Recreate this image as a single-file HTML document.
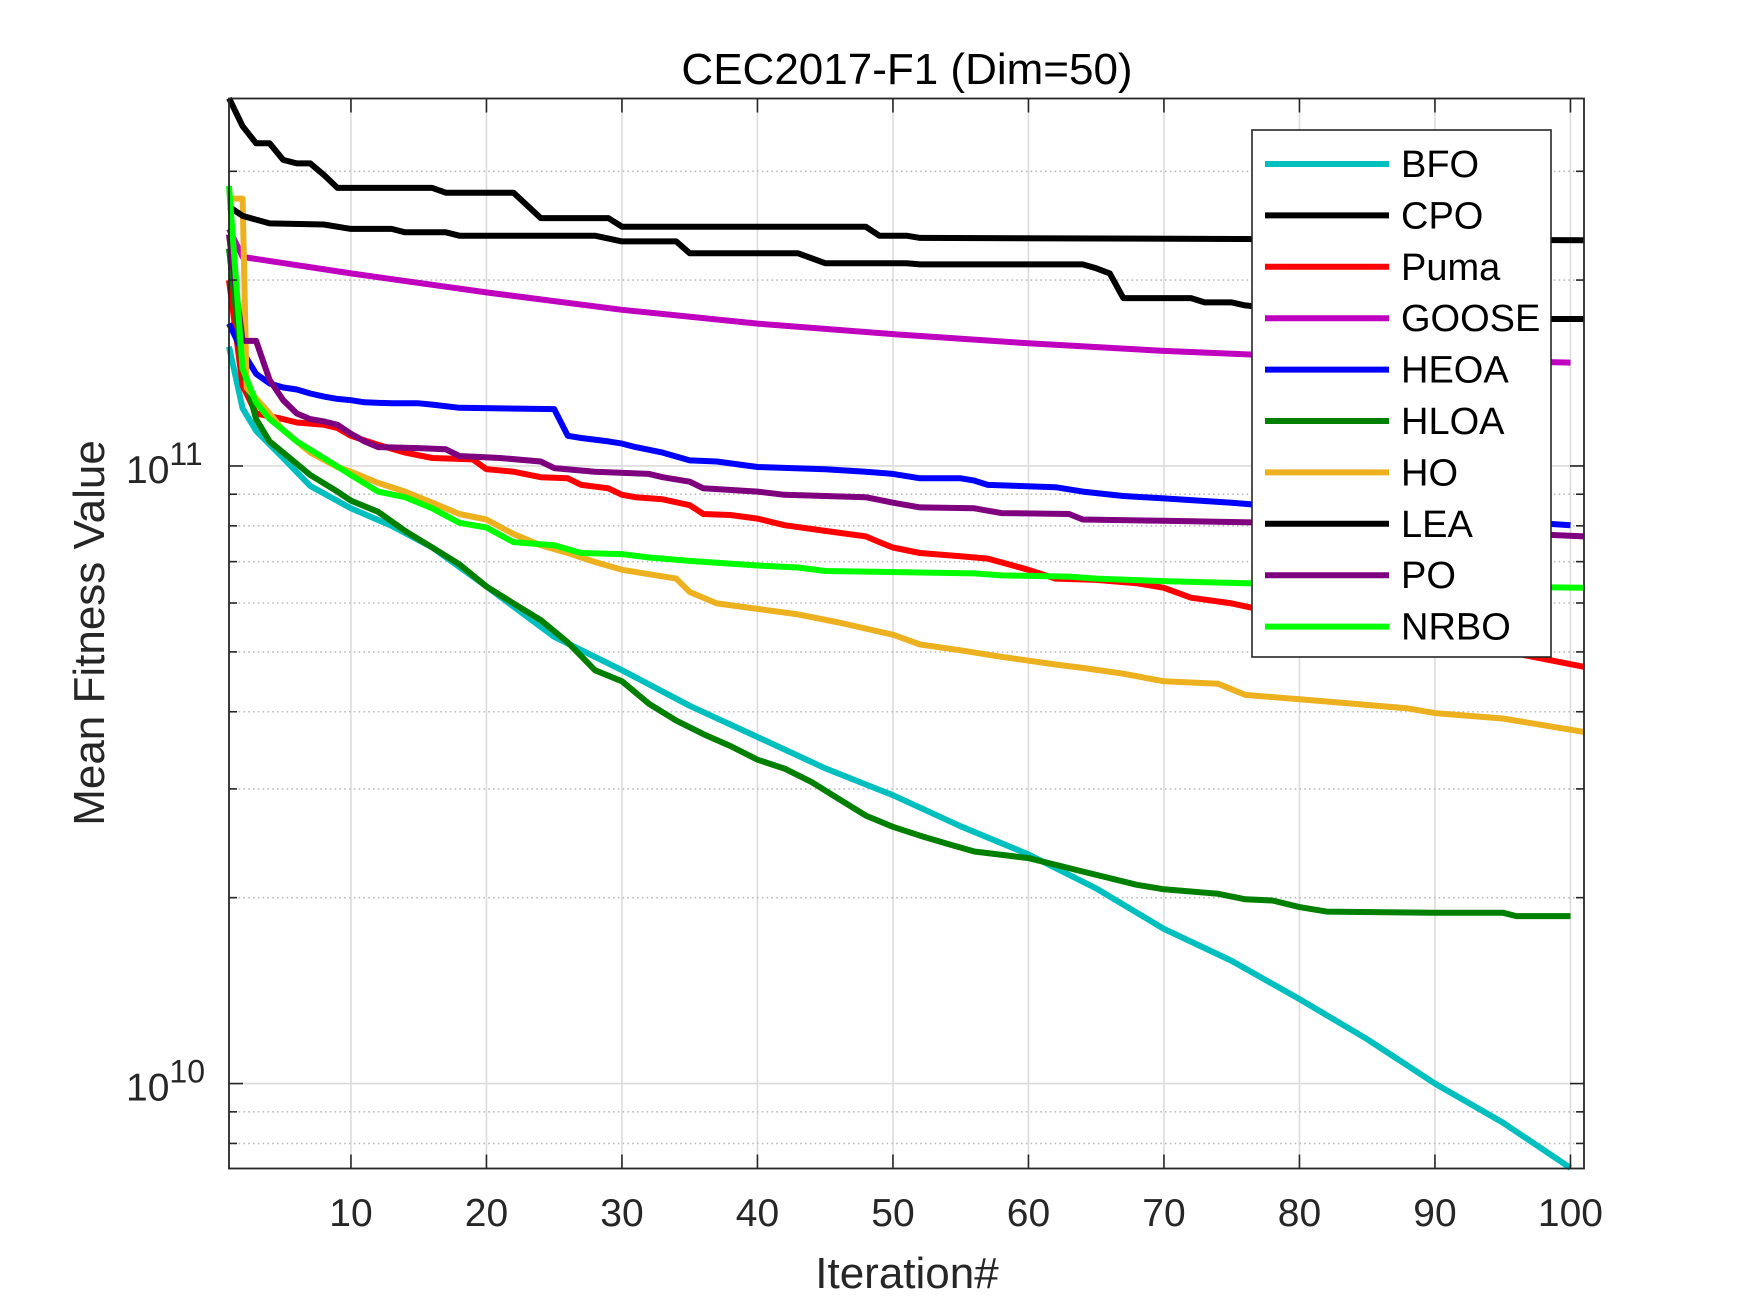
<!DOCTYPE html>
<html><head><meta charset="utf-8"><title>CEC2017-F1 (Dim=50)</title>
<style>
html,body{margin:0;padding:0;background:#fff;}
svg{display:block;font-family:"Liberation Sans",Arial,sans-serif;}
</style></head>
<body>
<svg id="chart" width="1750" height="1313" viewBox="0 0 1750 1313">
  <rect x="0" y="0" width="1750" height="1313" fill="#fff"/>
  <g id="grid"></g>
  <g id="series"></g>
  <g id="axes"></g>
  <g id="legend"></g>
</svg>
<script>
// ---- data ----
const seriesNames = ["BFO","CPO","Puma","GOOSE","HEOA","HLOA","HO","LEA","PO","NRBO"];
const seriesColors = ["#00BFBF","#000000","#FF0000","#BF00BF","#0000FF","#007F00","#EDB120","#000000","#7E007E","#00FF00"];
const xTicks = [10,20,30,40,50,60,70,80,90,100];
const yMajorTicks = [1e10,1e11];
const yTickExps = ["10","11"];

const bfoIter = [1,2,3,5,7,10,13,16,20,25,30,35,40,45,50,55,60,65,70,75,80,85,90,95,100];
const bfoVal  = [1.56e11,1.24e11,1.14e11,1.03e11,0.928e11,0.854e11,0.80e11,0.738e11,0.638e11,0.529e11,0.467e11,0.409e11,0.364e11,0.324e11,0.293e11,0.261e11,0.235e11,0.207e11,0.178e11,0.158e11,0.137e11,0.118e11,0.100e11,0.0865e11,0.073e11];

const cpoIter = [1,2,3,4,5,6,7,8,9,16,17,22,24,29,30,48,49,51,52,101];
const cpoVal  = [3.94e11,3.55e11,3.33e11,3.33e11,3.13e11,3.09e11,3.09e11,2.96e11,2.82e11,2.82e11,2.77e11,2.77e11,2.52e11,2.52e11,2.44e11,2.44e11,2.36e11,2.36e11,2.34e11,2.32e11];

const pumaIter = [1,2,3,5,6,8,9,10,12,14,16,19,20,22,24,26,27,29,30,31,33,35,36,38,40,42,45,48,49,50,52,55,57,60,62,65,68,70,72,75,78,80,88,96,101];
const pumaVal  = [2.0e11,1.35e11,1.216e11,1.191e11,1.176e11,1.166e11,1.152e11,1.119e11,1.082e11,1.051e11,1.03e11,1.025e11,0.988e11,0.979e11,0.959e11,0.955e11,0.932e11,0.92e11,0.898e11,0.89e11,0.883e11,0.864e11,0.836e11,0.833e11,0.822e11,0.802e11,0.785e11,0.769e11,0.753e11,0.738e11,0.723e11,0.714e11,0.708e11,0.679e11,0.657e11,0.654e11,0.646e11,0.635e11,0.612e11,0.599e11,0.58e11,0.563e11,0.529e11,0.497e11,0.473e11];

const gooseIter = [1,2,10,20,30,40,50,60,70,80,100];
const gooseVal  = [2.42e11,2.18e11,2.05e11,1.91e11,1.79e11,1.70e11,1.635e11,1.58e11,1.536e11,1.504e11,1.47e11];

const heoaIter = [1,2,3,4,5,6,7,8,9,10,11,13,15,16,18,25,26,27,29,30,31,33,35,37,40,45,48,50,52,55,56,57,62,64,67,70,75,80,90,100];
const heoaVal  = [1.70e11,1.53e11,1.41e11,1.36e11,1.34e11,1.33e11,1.31e11,1.295e11,1.284e11,1.278e11,1.268e11,1.263e11,1.263e11,1.257e11,1.242e11,1.236e11,1.119e11,1.11e11,1.096e11,1.087e11,1.073e11,1.051e11,1.021e11,1.017e11,0.996e11,0.988e11,0.979e11,0.971e11,0.955e11,0.955e11,0.947e11,0.932e11,0.924e11,0.909e11,0.894e11,0.886e11,0.872e11,0.854e11,0.829e11,0.802e11];

const hloaIter = [1,2,3,4,5,7,9,10,12,14,16,18,20,22,24,26,28,30,32,34,36,38,40,42,44,46,48,50,52,54,56,60,64,68,70,74,76,78,80,82,90,95,96,100];
const hloaVal  = [2.25e11,1.436e11,1.191e11,1.096e11,1.051e11,0.967e11,0.909e11,0.879e11,0.843e11,0.785e11,0.738e11,0.693e11,0.638e11,0.599e11,0.563e11,0.518e11,0.467e11,0.448e11,0.412e11,0.387e11,0.368e11,0.352e11,0.3345e11,0.3236e11,0.3077e11,0.289e11,0.2716e11,0.2605e11,0.252e11,0.2446e11,0.2376e11,0.2318e11,0.2205e11,0.2098e11,0.2063e11,0.2029e11,0.1988e11,0.1979e11,0.1931e11,0.1899e11,0.1891e11,0.1891e11,0.1867e11,0.1867e11];

const hoIter = [1,2,2.3,4,5,7,9,10,12,14,16,18,20,22,24,26,28,30,32,34,35,37,40,43,46,50,52,55,58,62,64,67,70,74,76,80,84,88,90,95,101];
const hoVal  = [2.71e11,2.71e11,1.339e11,1.216e11,1.143e11,1.051e11,0.996e11,0.979e11,0.939e11,0.909e11,0.872e11,0.836e11,0.819e11,0.776e11,0.744e11,0.723e11,0.699e11,0.679e11,0.668e11,0.657e11,0.625e11,0.599e11,0.587e11,0.575e11,0.558e11,0.533e11,0.514e11,0.503e11,0.491e11,0.477e11,0.471e11,0.461e11,0.448e11,0.444e11,0.426e11,0.419e11,0.412e11,0.405e11,0.398e11,0.39e11,0.371e11];

const leaIter = [1,2,4,8,10,13,14,17,18,28,30,34,35,43,45,51,52,64,65,66,67,72,73,75,76,85,101];
const leaVal  = [2.63e11,2.54e11,2.47e11,2.46e11,2.42e11,2.42e11,2.39e11,2.39e11,2.36e11,2.36e11,2.31e11,2.31e11,2.21e11,2.21e11,2.13e11,2.13e11,2.12e11,2.12e11,2.09e11,2.05e11,1.87e11,1.87e11,1.84e11,1.84e11,1.82e11,1.73e11,1.73e11];

const poIter = [1,2,3,4,5,6,7,8,9,10,11,12,15,17,18,21,24,25,28,32,33,35,36,40,42,48,50,52,56,58,63,64,70,78,101];
const poVal  = [2.37e11,1.594e11,1.594e11,1.378e11,1.278e11,1.216e11,1.191e11,1.181e11,1.166e11,1.128e11,1.096e11,1.073e11,1.069e11,1.064e11,1.038e11,1.03e11,1.017e11,0.992e11,0.979e11,0.971e11,0.959e11,0.943e11,0.92e11,0.909e11,0.898e11,0.89e11,0.872e11,0.857e11,0.854e11,0.839e11,0.836e11,0.819e11,0.815e11,0.809e11,0.769e11];

const nrboIter = [1,2,3,4,5,6,8,10,12,14,16,18,20,22,25,27,30,32,35,40,43,45,56,58,63,65,70,76,101];
const nrboVal  = [2.84e11,1.436e11,1.268e11,1.191e11,1.143e11,1.096e11,1.03e11,0.967e11,0.909e11,0.89e11,0.854e11,0.809e11,0.795e11,0.753e11,0.744e11,0.723e11,0.72e11,0.711e11,0.702e11,0.69e11,0.685e11,0.676e11,0.67e11,0.665e11,0.662e11,0.657e11,0.651e11,0.646e11,0.635e11];

const allIters = [bfoIter,cpoIter,pumaIter,gooseIter,heoaIter,hloaIter,hoIter,leaIter,poIter,nrboIter];
const allVals  = [bfoVal,cpoVal,pumaVal,gooseVal,heoaVal,hloaVal,hoVal,leaVal,poVal,nrboVal];

// ---- layout ----
const NS = "http://www.w3.org/2000/svg";
const L = 229, R = 1584, T = 98.5, B = 1168.5;
const xMin = 1, xMax = 101;
const yLogMin = 9.8625, yLogMax = 11.595;
function xScale(i){ return L + (i - xMin) / (xMax - xMin) * (R - L); }
function yScale(v){ return B - (Math.log10(v) - yLogMin) / (yLogMax - yLogMin) * (B - T); }
function mk(tag, attrs, parent){ const e = document.createElementNS(NS, tag); for (const k in attrs) e.setAttribute(k, attrs[k]); parent.appendChild(e); return e; }

const grid = document.getElementById('grid');
const axes = document.getElementById('axes');
const seriesG = document.getElementById('series');
const legend = document.getElementById('legend');

xTicks.forEach(t => {
  const x = xScale(t);
  const g = mk('line', {x1:x, x2:x, y1:T, y2:B, stroke:'#dcdcdc', 'stroke-width':1.6}, grid);
  
  
});
for (let e = 9; e <= 11; e++) {
  for (let m = 1; m <= 9; m++) {
    const v = m * Math.pow(10, e);
    const lv = Math.log10(v);
    if (lv < yLogMin || lv > yLogMax) continue;
    const y = yScale(v);
    if (m === 1) {
      const g = mk('line', {x1:L, x2:R, y1:y, y2:y, stroke:'#dcdcdc', 'stroke-width':1.6}, grid);
      
      
      const t1 = mk('line', {x1:L, x2:L+14, y1:y, y2:y, stroke:'#262626', 'stroke-width':1.6}, axes);
      
      
      const t2 = mk('line', {x1:R-14, x2:R, y1:y, y2:y, stroke:'#262626', 'stroke-width':1.6}, axes);
      
      
    } else {
      const g = mk('line', {x1:L, x2:R, y1:y, y2:y, stroke:'#bdbdbd', 'stroke-width':1.6, 'stroke-dasharray':'1.6 3.2'}, grid);
      
      
      const t1 = mk('line', {x1:L, x2:L+8, y1:y, y2:y, stroke:'#262626', 'stroke-width':1.6}, axes);
      
      
      const t2 = mk('line', {x1:R-8, x2:R, y1:y, y2:y, stroke:'#262626', 'stroke-width':1.6}, axes);
      
      
    }
  }
}

allIters.forEach((its, k) => {
  const vals = allVals[k];
  const pts = its.map((it, j) => xScale(it).toFixed(1) + ',' + yScale(vals[j]).toFixed(1)).join(' ');
  const p = mk('polyline', {points:pts, fill:'none', stroke:seriesColors[k], 'stroke-width':6, 'stroke-linejoin':'round'}, seriesG);
  
  
});

const box = mk('rect', {x:L, y:T, width:R-L, height:B-T, fill:'none', stroke:'#262626', 'stroke-width':1.8}, axes);



xTicks.forEach(t => {
  const x = xScale(t);
  const a = mk('line', {x1:x, x2:x, y1:B-14, y2:B, stroke:'#262626', 'stroke-width':1.6}, axes);
  
  
  const b = mk('line', {x1:x, x2:x, y1:T, y2:T+14, stroke:'#262626', 'stroke-width':1.6}, axes);
  
  
  const tx = mk('text', {x:x, y:1226, 'font-size':39, 'text-anchor':'middle', fill:'#262626'}, axes);
  tx.textContent = String(t);
  
  
});

yMajorTicks.forEach((v, k) => {
  const y = yScale(v);
  const tx = mk('text', {x:126, y:y+17, 'font-size':39, fill:'#262626'}, axes);
  
  
  const base = mk('tspan', {}, tx); base.textContent = '10';
  const sup = mk('tspan', {dy:-18, 'font-size':32}, tx); sup.textContent = yTickExps[k];
});

const title = mk('text', {x:907, y:84, 'font-size':44, 'text-anchor':'middle', fill:'#000'}, axes);
title.textContent = 'CEC2017-F1 (Dim=50)';


const xl = mk('text', {x:907, y:1288, 'font-size':44, 'text-anchor':'middle', fill:'#262626'}, axes);
xl.textContent = 'Iteration#';


const yl = mk('text', {x:0, y:0, 'font-size':44, 'text-anchor':'middle', fill:'#262626', transform:'translate(104,633) rotate(-90)'}, axes);
yl.textContent = 'Mean Fitness Value';



const lb = mk('rect', {x:1252, y:130, width:299, height:527, fill:'#fff', stroke:'#262626', 'stroke-width':1.6}, legend);


seriesNames.forEach((n, k) => {
  const y = 164 + k * 51.4;
  const g = mk('g', {}, legend);
  
  
  const ln = mk('line', {x1:1265, x2:1389, y1:y, y2:y, stroke:seriesColors[k], 'stroke-width':6}, g);
  
  
  const t = mk('text', {x:1401, y:y+13, 'font-size':38, fill:'#000'}, g);
  t.textContent = n;
  
  
});
</script>
</body></html>
